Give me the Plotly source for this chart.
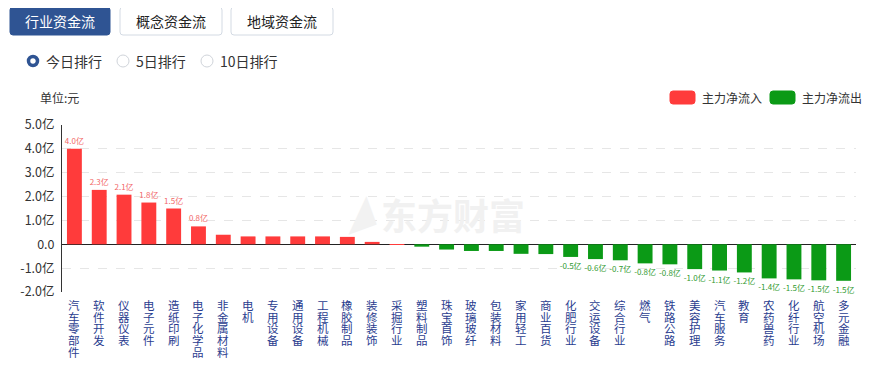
import plotly.graph_objects as go

categories = ["汽车零部件", "软件开发", "仪器仪表", "电子元件", "造纸印刷", "电子化学品",
              "非金属材料", "电机", "专用设备", "通用设备", "工程机械", "橡胶制品",
              "装修装饰", "采掘行业", "塑料制品", "珠宝首饰", "玻璃玻纤", "包装材料",
              "家用轻工", "商业百货", "化肥行业", "交运设备", "综合行业", "燃气",
              "铁路公路", "美容护理", "汽车服务", "教育", "农药兽药", "化纤行业",
              "航空机场", "多元金融"]
values = [4.0, 2.28, 2.08, 1.75, 1.5, 0.75,
          0.4, 0.33, 0.33, 0.33, 0.33, 0.31,
          0.1, 0.01, -0.1, -0.22, -0.28, -0.28,
          -0.4, -0.41, -0.53, -0.62, -0.67, -0.8,
          -0.84, -1.04, -1.1, -1.18, -1.43, -1.47,
          -1.51, -1.53]
y_ticks = [-2, -1, 0, 1, 2, 3, 4, 5]
y_tick_labels = ["-2.0亿", "-1.0亿", "0.0", "1.0亿", "2.0亿", "3.0亿", "4.0亿", "5.0亿"]
tabs = ["行业资金流", "概念资金流", "地域资金流"]
radios = ["今日排行", "5日排行", "10日排行"]
legend_names = ["主力净流入", "主力净流出"]

RED = "#ff3b3b"
GREEN = "#0b9a16"
RED_TXT = "#f26666"
GREEN_TXT = "#2f9a2f"
FONT = "Noto Sans CJK SC, Microsoft YaHei, sans-serif"

# page geometry (the page body has an 8px margin)
PAGE_W, PAGE_H, OFF = 877, 369, 8
PL, PR, PT, PB = 62, 856, 125, 292
W, H = PAGE_W - OFF, PAGE_H - OFF


def px(x):
    return (x - PL) / (PR - PL)


def py(y):
    return (PB - y) / (PB - PT)


colors = [RED if v >= 0 else GREEN for v in values]
txt_colors = [RED_TXT if v >= 0 else GREEN_TXT for v in values]
texts = [f"{v:.1f}亿" if abs(v) >= 0.5 else "" for v in values]

fig = go.Figure()
fig.add_trace(go.Bar(
    x=list(range(len(categories))), y=values,
    marker=dict(color=colors, line=dict(width=0)),
    text=texts, textposition="outside", textangle=0,
    textfont=dict(size=8, color=txt_colors, family=FONT),
    constraintext="none", cliponaxis=False, showlegend=False,
    hoverinfo="skip",
))

shapes = []
annotations = []


def rrect(x0, y0, x1, y1, r, fill, line):
    X0, X1 = px(x0), px(x1)
    Y0, Y1 = py(y0), py(y1)
    rx, ry = r / (PR - PL), r / (PB - PT)
    path = (f"M {X0+rx},{Y0} L {X1-rx},{Y0} Q {X1},{Y0} {X1},{Y0-ry} "
            f"L {X1},{Y1+ry} Q {X1},{Y1} {X1-rx},{Y1} L {X0+rx},{Y1} "
            f"Q {X0},{Y1} {X0},{Y1+ry} L {X0},{Y0-ry} Q {X0},{Y0} {X0+rx},{Y0} Z")
    shapes.append(dict(type="path", xref="paper", yref="paper", path=path,
                       fillcolor=fill, line=dict(color=line, width=1), layer="above"))


def label(x, y, text, size, color, xanchor="left", angle=0):
    annotations.append(dict(x=px(x), y=py(y), xref="paper", yref="paper", text=text,
                            showarrow=False, xanchor=xanchor, yanchor="middle",
                            textangle=angle,
                            font=dict(size=size, color=color, family=FONT)))


# tabs
tab_x = [(10, 110), (120, 222), (231, 333)]
for i, (name, (a, b)) in enumerate(zip(tabs, tab_x)):
    active = i == 0
    rrect(a, 7, b, 35, 3, "#2f5493" if active else "#ffffff",
          "#2f5493" if active else "#d3dae3")
    label((a + b) / 2, 21, name, 14, "#ffffff" if active else "#222222", "center")

# radios
radio_x = [(33, 44), (123, 134), (207, 218)]
for i, (name, (cx, tx)) in enumerate(zip(radios, radio_x)):
    r = 6
    if i == 0:
        shapes.append(dict(type="circle", xref="paper", yref="paper",
                           x0=px(cx - r + 1.5), x1=px(cx + r - 1.5),
                           y0=py(61 + r - 1.5), y1=py(61 - r + 1.5),
                           fillcolor="#ffffff", line=dict(color="#2f5493", width=3.5)))
    else:
        shapes.append(dict(type="circle", xref="paper", yref="paper",
                           x0=px(cx - r), x1=px(cx + r), y0=py(61 + r), y1=py(61 - r),
                           fillcolor="#ffffff", line=dict(color="#d0d4da", width=1)))
    label(tx, 61, name, 14, "#333333")

# unit
label(38, 97, "单位:元", 12, "#333333")

# legend
for name, col, (a, b, tx) in zip(legend_names, [RED, GREEN], [(670, 695, 700), (770, 795, 800)]):
    rrect(a, 91, b, 104, 3, col, col)
    label(tx, 97.5, name, 12, "#333333")

# watermark
label(453, 214, "<b>东方财富</b>", 36, "#f1f1f1", "center")
label(357, 214, "<b>◢</b>", 30, "#f2f2f2", "center", -20)

# vertical category labels (one text per category, characters stacked)
for i, cat in enumerate(categories):
    txt = "<br>".join(f"<span style='font-size:11.5px'>{ch}</span>" for ch in cat)
    annotations.append(dict(x=i, y=0, xref="x", yref="paper", text=txt,
                            showarrow=False, xanchor="center", yanchor="top",
                            yshift=-3, align="center",
                            font=dict(size=9, color="#2a3d8f", family=FONT)))

fig.update_layout(
    width=W, height=H,
    margin=dict(l=PL - OFF, r=PAGE_W - PR, t=PT - OFF, b=PAGE_H - PB, pad=0),
    paper_bgcolor="#ffffff", plot_bgcolor="#ffffff",
    bargap=0.4,
    font=dict(family=FONT),
    xaxis=dict(range=[-0.5, len(categories) - 0.5], showticklabels=False,
               showgrid=False, zeroline=False, showline=False, fixedrange=True),
    yaxis=dict(range=[-2, 5], tickvals=y_ticks, ticktext=y_tick_labels,
               tickfont=dict(size=12.5, color="#333333", family=FONT),
               ticklabelstandoff=4,
               showgrid=True, gridcolor="#e6e6e6", griddash="dash", gridwidth=1,
               zeroline=True, zerolinecolor="#222222", zerolinewidth=1,
               showline=True, linecolor="#333333", linewidth=1,
               ticks="", ticklen=0, fixedrange=True, automargin=False),
    shapes=shapes, annotations=annotations,
)

fig.write_html("out.html")
